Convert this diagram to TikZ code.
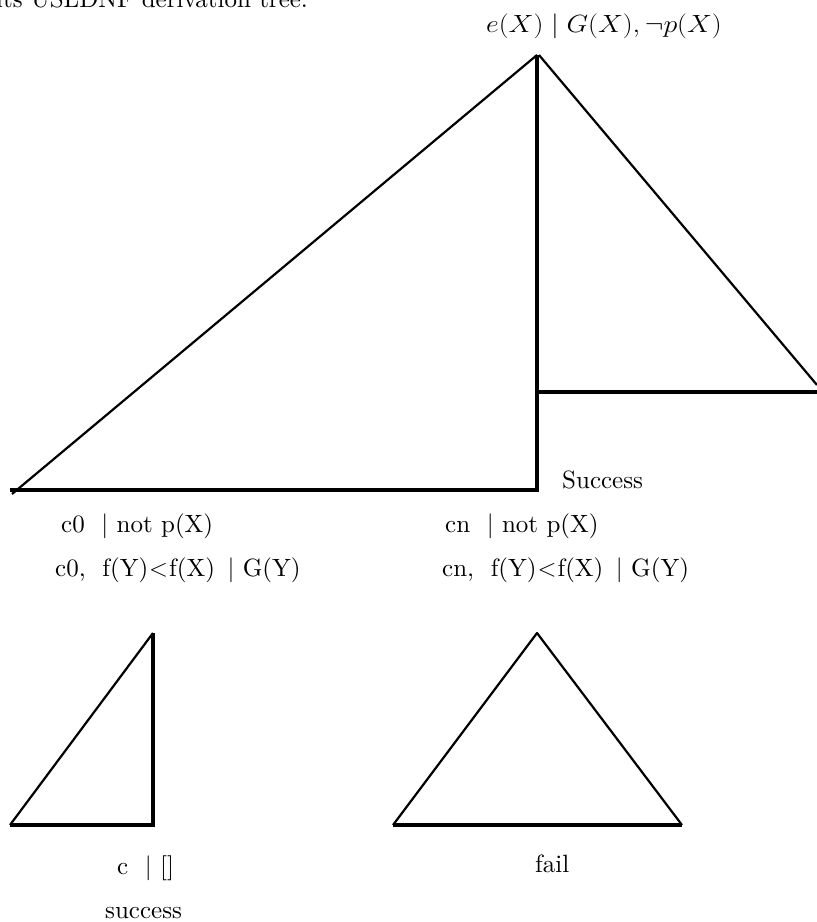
\documentclass[tikz,border=0pt]{standalone}
\usepackage{graphicx}
\usepackage{fontspec}
\newfontfamily\lmten{lmroman10-regular.otf}
\begin{document}
\begin{tikzpicture}[x=1pt,y=-1pt,
  lbl/.style={inner sep=0pt,font=\fontsize{25}{29}\lmten},
  thickline/.style={line width=4.2pt},
  thinline/.style={line width=2.2pt}]
\useasboundingbox (0,0) rectangle (817,922);
\clip (0,0) rectangle (817,922);
% cut-off heading line
\node[lbl,anchor=base west] (head) at (-4,7) {its USLDNF derivation tree.};
% top label
\node[lbl,anchor=base west] (top) at (486,32) {\scalebox{1.12}[1]{$e(X) \mid G(X),\neg p(X)$}};
% big tree
\coordinate (apex) at (537,55);
\coordinate (bl) at (10,490);
\coordinate (br) at (537,490);
\coordinate (rt) at (817,385);
\coordinate (mid) at (537,392);
\coordinate (midr) at (817,392);
\draw[thinline] (apex) -- (12,494);
\draw[thickline] (bl) -- (br) -- (apex);
\draw[thinline] (539,55) -- (rt);
\draw[thickline] (mid) -- (midr);
\node[lbl,anchor=base west] (succ1) at (562,488) {Success};
% leaf labels
\node[lbl,anchor=base west] (c0a) at (61,532) {c0 \ $|$ not p(X)};
\node[lbl,anchor=base west] (c0b) at (55,576) {c0, \ f(Y)\kern1pt$<$\kern1pt f(X) \,$|$ G(Y)};
\node[lbl,anchor=base west] (cna) at (445,532) {cn \ $|$ not p(X)};
\node[lbl,anchor=base west] (cnb) at (442,576) {cn, \ f(Y)\kern1pt$<$\kern1pt f(X) \,$|$ G(Y)};
% small right triangle
\coordinate (s1t) at (153,633);
\coordinate (s1l) at (10,825);
\coordinate (s1r) at (153,825);
\draw[thinline] (s1t) -- (s1l);
\draw[thickline] (s1l) -- (s1r) -- (s1t);
% isosceles triangle
\coordinate (s2t) at (537,633);
\coordinate (s2l) at (393,825);
\coordinate (s2r) at (682,825);
\draw[thinline,line join=round] (s2l) -- (s2t) -- (s2r);
\draw[thickline] (s2l) -- (s2r);
% bottom labels
\node[lbl,anchor=base west] (cbox) at (117,874) {c \ $|$ []};
\node[lbl,anchor=base west] (succ2) at (105,918) {success};
\node[lbl,anchor=base west] (fail) at (535,872) {fail};
\end{tikzpicture}
\end{document}
